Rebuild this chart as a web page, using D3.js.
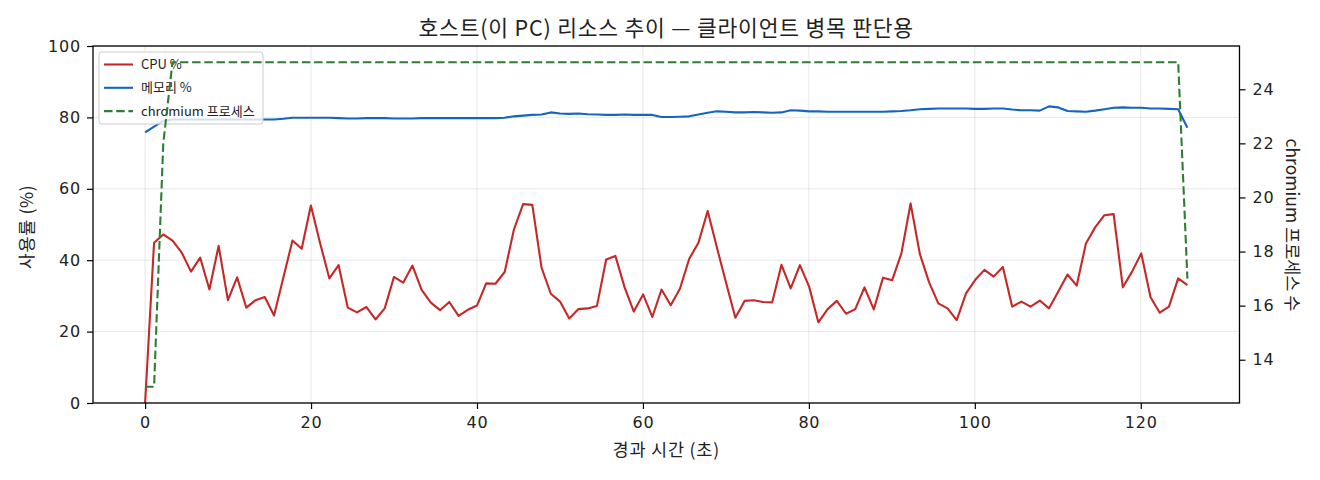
<!DOCTYPE html>
<html>
<head>
<meta charset="utf-8">
<script src="https://cdn.jsdelivr.net/npm/d3@7"></script>
<style>
  body { margin: 0; background: #fff; }
  text { font-family: "Noto Sans CJK KR", "Noto Sans", sans-serif; fill: #222; }
</style>
</head>
<body>
<script>
// elapsed time of each sample (s)
var seconds = [
    0, 1.08, 2.19, 3.30, 4.42, 5.53, 6.64, 7.75, 8.86, 9.98,
    11.09, 12.20, 13.31, 14.42, 15.54, 16.65, 17.76, 18.87, 19.98, 21.10,
    22.21, 23.32, 24.43, 25.54, 26.66, 27.77, 28.88, 29.99, 31.10, 32.22,
    33.33, 34.44, 35.55, 36.66, 37.78, 38.89, 40.00, 41.11, 42.22, 43.34,
    44.45, 45.56, 46.67, 47.78, 48.90, 50.01, 51.12, 52.23, 53.34, 54.46,
    55.57, 56.68, 57.79, 58.90, 60.02, 61.13, 62.24, 63.35, 64.46, 65.58,
    66.69, 67.80, 68.91, 70.02, 71.14, 72.25, 73.36, 74.47, 75.58, 76.70,
    77.81, 78.92, 80.03, 81.14, 82.26, 83.37, 84.48, 85.59, 86.70, 87.82,
    88.93, 90.04, 91.15, 92.26, 93.38, 94.49, 95.60, 96.71, 97.82, 98.94,
    100.05, 101.16, 102.27, 103.38, 104.50, 105.61, 106.72, 107.83, 108.94, 110.06,
    111.17, 112.28, 113.39, 114.50, 115.62, 116.73, 117.84, 118.95, 120.06, 121.18,
    122.29, 123.40, 124.51, 125.62
];

var cpuPct = [
    0, 44.9, 47.2, 45.5, 42.1, 36.8, 40.7, 31.8, 44.0, 28.8,
    35.2, 26.7, 28.8, 29.7, 24.5, 35.0, 45.5, 43.2, 55.3, 44.7,
    34.9, 38.6, 26.7, 25.4, 26.9, 23.4, 26.5, 35.3, 33.7, 38.5,
    31.7, 28.1, 26.0, 28.3, 24.4, 26.1, 27.3, 33.5, 33.4, 36.7,
    48.6, 55.7, 55.5, 37.9, 30.6, 28.4, 23.7, 26.3, 26.5, 27.2,
    40.2, 41.2, 32.4, 25.6, 30.4, 24.1, 31.8, 27.4, 32.0, 40.4,
    44.9, 53.8, 43.6, 33.7, 23.9, 28.6, 28.8, 28.3, 28.2, 38.7,
    32.1, 38.6, 32.6, 22.6, 26.3, 28.6, 25.0, 26.3, 32.4, 26.2,
    35.1, 34.4, 41.9, 55.9, 41.7, 33.8, 27.9, 26.5, 23.2, 30.7,
    34.5, 37.3, 35.4, 38.1, 27.0, 28.4, 27.0, 28.7, 26.5, 31.2,
    36.0, 32.9, 44.7, 49.2, 52.6, 52.9, 32.4, 36.8, 41.9, 29.6,
    25.3, 27.0, 34.9, 33.0
];

var memPct = [
    75.8, 77.4, 79.0, 79.4, 79.4, 79.4, 79.4, 79.4, 79.4, 79.4,
    79.4, 79.4, 79.4, 79.4, 79.4, 79.6, 79.9, 79.9, 79.9, 79.9,
    79.9, 79.8, 79.7, 79.7, 79.8, 79.8, 79.8, 79.7, 79.7, 79.7,
    79.8, 79.8, 79.8, 79.8, 79.8, 79.8, 79.8, 79.8, 79.8, 79.9,
    80.3, 80.5, 80.7, 80.8, 81.4, 81.1, 81.0, 81.1, 80.9, 80.8,
    80.7, 80.7, 80.8, 80.7, 80.7, 80.7, 80.1, 80.1, 80.2, 80.3,
    80.8, 81.3, 81.7, 81.6, 81.4, 81.4, 81.5, 81.4, 81.3, 81.4,
    82.0, 81.9, 81.7, 81.7, 81.6, 81.6, 81.6, 81.6, 81.6, 81.6,
    81.6, 81.7, 81.8, 82.0, 82.3, 82.4, 82.5, 82.5, 82.5, 82.5,
    82.4, 82.4, 82.5, 82.5, 82.2, 82.0, 82.0, 81.9, 83.1, 82.8,
    81.8, 81.7, 81.6, 81.9, 82.3, 82.7, 82.8, 82.7, 82.7, 82.5,
    82.5, 82.4, 82.3, 77.1
];

var chromiumProcs = [
    13, 13, 22, 25, 25, 25, 25, 25, 25, 25,
    25, 25, 25, 25, 25, 25, 25, 25, 25, 25,
    25, 25, 25, 25, 25, 25, 25, 25, 25, 25,
    25, 25, 25, 25, 25, 25, 25, 25, 25, 25,
    25, 25, 25, 25, 25, 25, 25, 25, 25, 25,
    25, 25, 25, 25, 25, 25, 25, 25, 25, 25,
    25, 25, 25, 25, 25, 25, 25, 25, 25, 25,
    25, 25, 25, 25, 25, 25, 25, 25, 25, 25,
    25, 25, 25, 25, 25, 25, 25, 25, 25, 25,
    25, 25, 25, 25, 25, 25, 25, 25, 25, 25,
    25, 25, 25, 25, 25, 25, 25, 25, 25, 25,
    25, 25, 25, 17
];

var xTicks = [0, 20, 40, 60, 80, 100, 120];
var leftTicks = [0, 20, 40, 60, 80, 100];
var rightTicks = [14, 16, 18, 20, 22, 24];

var seriesNames = ["CPU %", "메모리 %", "chromium 프로세스"];
var seriesColors = ["#c62828", "#1565c0", "#2e7d32"];

function main() {
    var width = 1320, height = 480;
    var left = 93, right = 1239.5, top = 46, bottom = 403;

    var svg = d3.select("body").append("svg")
        .attr("width", width).attr("height", height);

    var x = d3.scaleLinear().domain([-6.28, 131.9]).range([left, right]);
    var yLeft = d3.scaleLinear().domain([0, 100]).range([bottom, top]);
    var yRight = d3.scaleLinear().domain([12.4, 25.6]).range([bottom, top]);

    // grid
    var grid = svg.append("g").attr("stroke", "#b0b0b0").attr("stroke-opacity", 0.3).attr("stroke-width", 1);
    grid.selectAll("line.gx").data(xTicks).enter().append("line")
        .attr("x1", function(d) { return x(d); }).attr("x2", function(d) { return x(d); })
        .attr("y1", top).attr("y2", bottom);
    grid.selectAll("line.gy").data(leftTicks).enter().append("line")
        .attr("x1", left).attr("x2", right)
        .attr("y1", function(d) { return yLeft(d); }).attr("y2", function(d) { return yLeft(d); });

    var idx = d3.range(seconds.length);

    var lineCpu = d3.line().x(function(i) { return x(seconds[i]); }).y(function(i) { return yLeft(cpuPct[i]); });
    var lineMem = d3.line().x(function(i) { return x(seconds[i]); }).y(function(i) { return yLeft(memPct[i]); });
    var lineProc = d3.line().x(function(i) { return x(seconds[i]); }).y(function(i) { return yRight(chromiumProcs[i]); });

    svg.append("path").datum(idx).attr("d", lineCpu)
        .attr("fill", "none").attr("stroke", seriesColors[0]).attr("stroke-width", 2.1)
        .attr("stroke-linejoin", "round");
    svg.append("path").datum(idx).attr("d", lineMem)
        .attr("fill", "none").attr("stroke", seriesColors[1]).attr("stroke-width", 2.1)
        .attr("stroke-linejoin", "round");

    // legend (sits under the twin-axis line)
    var lg = svg.append("g");
    lg.append("rect").attr("x", 99).attr("y", 52).attr("width", 164).attr("height", 72)
        .attr("rx", 3).attr("fill", "#fff").attr("fill-opacity", 0.8)
        .attr("stroke", "#cccccc").attr("stroke-width", 1);
    seriesNames.forEach(function(name, i) {
        var yy = 64.5 + i * 23.3;
        lg.append("line").attr("x1", 104).attr("x2", 133).attr("y1", yy).attr("y2", yy)
            .attr("stroke", seriesColors[i]).attr("stroke-width", 2.1)
            .attr("stroke-dasharray", i == 2 ? "8.5,3.7" : null);
        lg.append("text").attr("x", 141).attr("y", yy).attr("dy", "0.35em")
            .attr("font-size", "13px").text(name);
    });

    svg.append("path").datum(idx).attr("d", lineProc)
        .attr("fill", "none").attr("stroke", seriesColors[2]).attr("stroke-width", 2.1)
        .attr("stroke-dasharray", "8.5,3.7");

    // axes
    var ax = svg.append("g").attr("transform", "translate(0," + bottom + ")")
        .call(d3.axisBottom(x).tickValues(xTicks).tickSize(6).tickSizeOuter(0).tickPadding(8));
    var ayl = svg.append("g").attr("transform", "translate(" + left + ",0)")
        .call(d3.axisLeft(yLeft).tickValues(leftTicks).tickSize(6).tickSizeOuter(0).tickPadding(6));
    var ayr = svg.append("g").attr("transform", "translate(" + right + ",0)")
        .call(d3.axisRight(yRight).tickValues(rightTicks).tickSize(6).tickSizeOuter(0).tickPadding(7));
    [ax, ayl, ayr].forEach(function(g) {
        g.attr("font-family", null).attr("font-size", null);
        g.selectAll("text").attr("font-size", "16px").attr("letter-spacing", "0.8px")
            .style("font-family", "'DejaVu Sans', sans-serif").attr("fill", "#222");
        g.selectAll("line").attr("stroke", "#000").attr("stroke-width", 1.2);
        g.select(".domain").remove();
    });

    // frame
    svg.append("rect").attr("x", left).attr("y", top)
        .attr("width", right - left).attr("height", bottom - top)
        .attr("fill", "none").attr("stroke", "#000").attr("stroke-width", 1.3);

    svg.append("text").attr("x", (left + right) / 2).attr("y", 35.5)
        .attr("text-anchor", "middle").attr("font-size", "21.5px").attr("letter-spacing", "0.8px")
        .text("호스트(이 PC) 리소스 추이 — 클라이언트 병목 판단용");
    svg.append("text").attr("x", (left + right) / 2).attr("y", 450).attr("dy", "0.35em")
        .attr("text-anchor", "middle").attr("font-size", "17.5px").attr("letter-spacing", "0.8px")
        .text("경과 시간 (초)");
    svg.append("text").attr("transform", "translate(27," + 227 + ") rotate(-90)").attr("dy", "0.35em")
        .attr("text-anchor", "middle").attr("font-size", "17.5px").attr("letter-spacing", "0.6px")
        .text("사용률 (%)");
    svg.append("text").attr("transform", "translate(1292," + 225 + ") rotate(90)").attr("dy", "0.35em")
        .attr("text-anchor", "middle").attr("font-size", "17.5px")
        .text("chromium 프로세스 수");
}

window.onload = main;
</script>
</body>
</html>
